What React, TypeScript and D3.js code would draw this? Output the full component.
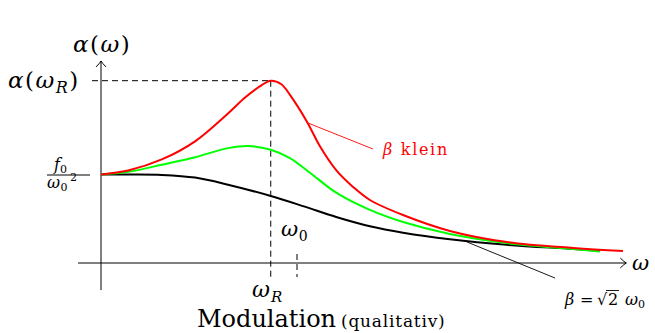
import React from "react";
import * as d3 from "d3";

// ω in units of ω0, amplitude in units of f0/ω0²
const redOmega = [0, 0.138, 0.31, 0.48, 0.648, 0.735, 0.82, 0.866, 0.92, 0.964, 1.05, 1.117, 1.2, 1.286, 1.372, 1.541, 1.78, 2.07, 2.41, 2.663];
const redAmp = [1.0, 1.045, 1.17, 1.375, 1.69, 1.87, 2.01, 2.06, 2.02, 1.9, 1.6, 1.32, 1.05, 0.86, 0.712, 0.542, 0.362, 0.237, 0.17, 0.136];

const greenOmega = [0, 0.138, 0.31, 0.48, 0.648, 0.75, 0.866, 0.964, 1.066, 1.2, 1.372, 1.541, 1.78, 2.07, 2.41, 2.546];
const greenAmp = [1.0, 1.03, 1.11, 1.195, 1.298, 1.322, 1.28, 1.186, 1.02, 0.795, 0.6, 0.463, 0.328, 0.226, 0.158, 0.13];

const blackOmega = [0, 0.15, 0.31, 0.48, 0.648, 0.866, 1.035, 1.2, 1.372, 1.541, 1.78, 2.07, 2.41, 2.546];
const blackAmp = [1.0, 1.0, 0.995, 0.965, 0.885, 0.757, 0.64, 0.52, 0.415, 0.342, 0.268, 0.205, 0.158, 0.136];

const omegaR = 0.866;
const omega0 = 1.0;
const peakAmp = 2.06;
const baseAmp = 1.0;

const xDomain = [-0.117, 2.68];
const yDomain = [-0.306, 2.283];

const serif = "DejaVu Serif";
const fs = (size: number, ls = 0) => ({ fontFamily: serif, fontSize: size, letterSpacing: ls });

export default function App() {
  const x = d3.scaleLinear().domain([0, 1]).range([101, 297]);
  const y = d3.scaleLinear().domain([0, 1]).range([263, 174.5]);

  const line = (xs: number[], ys: number[]) =>
    d3
      .line<number>()
      .x((_, i) => x(xs[i]))
      .y((_, i) => y(ys[i]))
      .curve(d3.curveCatmullRom.alpha(0.5))(xs) as string;

  const x0 = x(0);
  const y0 = y(0);
  const xEnd = x(xDomain[1]);
  const yTop = y(yDomain[1]);
  const yBot = y(yDomain[0]);

  return (
    <svg
      width={655}
      height={333}
      style={{ position: "absolute", left: 0, top: 0, background: "#fff" }}
    >
      {/* axes */}
      <line x1={x(xDomain[0])} y1={y0} x2={xEnd} y2={y0} stroke="#000" strokeWidth={1} />
      <path d={`M${xEnd - 6},${y0 - 5} Q${xEnd - 2},${y0 - 1} ${xEnd},${y0} Q${xEnd - 2},${y0 + 1} ${xEnd - 6},${y0 + 5}`} fill="none" stroke="#000" strokeWidth={1} />
      <line x1={x0} y1={yBot} x2={x0} y2={yTop} stroke="#000" strokeWidth={1} />
      <path d={`M${x0 - 5},${yTop + 6} Q${x0 - 1},${yTop + 2} ${x0},${yTop} Q${x0 + 1},${yTop + 2} ${x0 + 5},${yTop + 6}`} fill="none" stroke="#000" strokeWidth={1} />

      {/* dashed guides */}
      <line x1={x0 - 9} y1={y(peakAmp)} x2={x(omegaR)} y2={y(peakAmp)} stroke="#000" strokeWidth={1} strokeDasharray="6,4" />
      <line x1={x(omegaR)} y1={y(peakAmp)} x2={x(omegaR)} y2={y0 + 14} stroke="#000" strokeWidth={1} strokeDasharray="6,4" />
      <line x1={x(omega0)} y1={y0 - 10} x2={x(omega0)} y2={y0 + 14} stroke="#000" strokeWidth={1} strokeDasharray="6,4" strokeDashoffset={-1} />

      {/* curves */}
      <path d={line(blackOmega, blackAmp)} fill="none" stroke="#000" strokeWidth={2} />
      <path d={line(greenOmega, greenAmp)} fill="none" stroke="#00ff00" strokeWidth={2} />
      <path d={line(redOmega, redAmp)} fill="none" stroke="#ff0000" strokeWidth={2} />

      {/* pointer lines */}
      <line x1={308} y1={123} x2={373} y2={149} stroke="#ff0000" strokeWidth={0.9} />
      <line x1={467} y1={242} x2={555} y2={278} stroke="#000" strokeWidth={0.9} />

      {/* labels */}
      <text x={73} y={52} style={fs(23, 1.5)}>
        <tspan fontStyle="italic">α</tspan>(<tspan fontStyle="italic">ω</tspan>)
      </text>
      <text x={8} y={88} style={fs(23, 1.5)}>
        <tspan fontStyle="italic">α</tspan>(<tspan fontStyle="italic">ω</tspan>
        <tspan fontStyle="italic" fontSize={16} dy={5}>R</tspan>
        <tspan dy={-5}>)</tspan>
      </text>

      {/* fraction f0 / ω0² */}
      <text x={54} y={170} style={fs(16)}>
        <tspan fontStyle="italic">f</tspan>
        <tspan fontSize={11} dy={3}>0</tspan>
      </text>
      <line x1={47} y1={y(baseAmp) + 0.5} x2={90} y2={y(baseAmp) + 0.5} stroke="#000" strokeWidth={1} />
      <text x={47} y={188} style={fs(16, 0.5)}>
        <tspan fontStyle="italic">ω</tspan>
        <tspan fontSize={11} dy={3}>0</tspan>
        <tspan fontSize={11} dy={-10} dx={2}>2</tspan>
      </text>

      <text x={281} y={236} style={fs(21, 0.5)}>
        <tspan fontStyle="italic">ω</tspan>
        <tspan fontSize={14} dy={5}>0</tspan>
      </text>
      <text x={252} y={297} style={fs(22, 1)}>
        <tspan fontStyle="italic">ω</tspan>
        <tspan fontStyle="italic" fontSize={15} dy={5}>R</tspan>
      </text>
      <text x={632} y={270} style={fs(21)} fontStyle="italic">ω</text>

      <text x={197} y={327} style={fs(24)}>
        Modulation
      </text>
      <text x={341} y={327} style={fs(17, 0.8)}>
        (qualitativ)
      </text>

      <text x={383} y={155} style={fs(16, 1.7)} fill="#ff0000">
        <tspan fontStyle="italic">β</tspan> klein
      </text>

      <text y={305} style={fs(16)}>
        <tspan x={565} fontStyle="italic">β</tspan>
        <tspan x={580}>=</tspan>
        <tspan x={597}>√</tspan>
        <tspan x={608}>2</tspan>
        <tspan x={625} fontStyle="italic">ω</tspan>
        <tspan fontSize={11} dy={3}>0</tspan>
      </text>
      <line x1={606} y1={290.5} x2={619} y2={290.5} stroke="#000" strokeWidth={0.9} />
    </svg>
  );
}
